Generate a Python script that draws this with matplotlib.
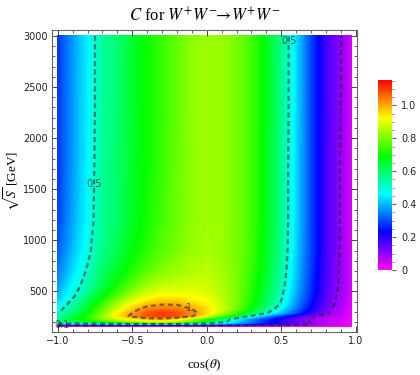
import colorsys
import numpy as np
import matplotlib
matplotlib.use("Agg")
import matplotlib.pyplot as plt
from matplotlib.colors import ListedColormap, Normalize
from matplotlib.ticker import MultipleLocator, FuncFormatter

# ---------------- data ----------------
cos_theta = [-1.0, -0.9, -0.8, -0.7, -0.6, -0.5, -0.4, -0.3, -0.2, -0.1, 0.0,
             0.1, 0.2, 0.3, 0.4, 0.5, 0.6, 0.7, 0.8, 0.85, 0.9, 0.94, 0.97]
sqrt_s = [161, 168, 176, 188, 205, 230, 260, 290, 330, 380, 450, 550, 700,
          900, 1200, 1700, 2300, 3000]

C_161 = [0.00, 0.00, 0.00, 0.00, 0.00, 0.00, 0.00, 0.00, 0.00, 0.00, 0.00,
         0.00, 0.00, 0.00, 0.00, 0.00, 0.00, 0.00, 0.00, 0.00, 0.00, 0.00, 0.00]
C_168 = [0.10, 0.10, 0.10, 0.10, 0.10, 0.10, 0.10, 0.10, 0.10, 0.10, 0.10,
         0.10, 0.10, 0.09, 0.08, 0.07, 0.06, 0.05, 0.03, 0.025, 0.02, 0.015, 0.01]
C_176 = [0.28, 0.28, 0.29, 0.30, 0.31, 0.32, 0.33, 0.33, 0.33, 0.32, 0.30,
         0.27, 0.24, 0.21, 0.18, 0.15, 0.12, 0.09, 0.06, 0.045, 0.035, 0.025, 0.015]
C_188 = [0.50, 0.51, 0.53, 0.56, 0.59, 0.62, 0.64, 0.65, 0.63, 0.58, 0.51,
         0.44, 0.37, 0.30, 0.24, 0.19, 0.14, 0.10, 0.065, 0.05, 0.04, 0.03, 0.015]
C_205 = [0.56, 0.60, 0.65, 0.71, 0.77, 0.83, 0.87, 0.89, 0.86, 0.78, 0.66,
         0.54, 0.43, 0.34, 0.26, 0.20, 0.14, 0.095, 0.06, 0.05, 0.035, 0.025, 0.01]
C_230 = [0.57, 0.64, 0.72, 0.80, 0.87, 0.93, 0.97, 0.98, 0.94, 0.84, 0.71,
         0.57, 0.45, 0.35, 0.27, 0.20, 0.14, 0.09, 0.06, 0.05, 0.035, 0.025, 0.01]
C_260 = [0.53, 0.62, 0.72, 0.83, 0.94, 1.02, 1.08, 1.10, 1.08, 1.01, 0.90,
         0.77, 0.63, 0.49, 0.37, 0.27, 0.19, 0.12, 0.075, 0.06, 0.045, 0.03, 0.015]
C_290 = [0.495, 0.58, 0.68, 0.80, 0.92, 1.00, 1.07, 1.10, 1.08, 1.03, 0.95,
         0.85, 0.74, 0.63, 0.51, 0.40, 0.29, 0.19, 0.11, 0.085, 0.06, 0.04, 0.02]
C_330 = [0.47, 0.56, 0.66, 0.77, 0.88, 0.97, 1.03, 1.05, 1.04, 1.00, 0.95,
         0.88, 0.79, 0.68, 0.56, 0.45, 0.33, 0.22, 0.125, 0.095, 0.07, 0.045, 0.025]
C_380 = [0.44, 0.53, 0.63, 0.74, 0.84, 0.92, 0.97, 0.99, 0.99, 0.96, 0.93,
         0.87, 0.80, 0.71, 0.61, 0.49, 0.36, 0.24, 0.14, 0.105, 0.08, 0.05, 0.03]
C_450 = [0.40, 0.49, 0.58, 0.68, 0.77, 0.85, 0.90, 0.93, 0.93, 0.92, 0.90,
         0.86, 0.80, 0.72, 0.62, 0.51, 0.38, 0.26, 0.15, 0.11, 0.085, 0.055, 0.03]
C_550 = [0.37, 0.465, 0.535, 0.63, 0.71, 0.78, 0.84, 0.87, 0.88, 0.88, 0.88,
         0.85, 0.80, 0.73, 0.64, 0.53, 0.40, 0.27, 0.16, 0.12, 0.09, 0.06, 0.03]
C_700 = [0.34, 0.43, 0.51, 0.60, 0.66, 0.72, 0.77, 0.81, 0.83, 0.85, 0.86,
         0.84, 0.80, 0.74, 0.65, 0.55, 0.41, 0.28, 0.165, 0.125, 0.09, 0.06, 0.035]
C_900 = [0.31, 0.40, 0.48, 0.57, 0.62, 0.68, 0.73, 0.77, 0.80, 0.83, 0.84,
         0.83, 0.80, 0.75, 0.66, 0.56, 0.42, 0.29, 0.17, 0.13, 0.095, 0.06, 0.035]
C_1200 = [0.29, 0.38, 0.46, 0.56, 0.60, 0.66, 0.71, 0.75, 0.79, 0.82, 0.835,
          0.83, 0.80, 0.75, 0.67, 0.565, 0.425, 0.29, 0.17, 0.13, 0.095, 0.06, 0.035]
C_1700 = [0.28, 0.37, 0.455, 0.555, 0.595, 0.655, 0.70, 0.745, 0.785, 0.82, 0.835,
          0.83, 0.80, 0.75, 0.67, 0.565, 0.425, 0.29, 0.17, 0.13, 0.097, 0.062, 0.035]
C_2300 = [0.28, 0.37, 0.45, 0.55, 0.59, 0.65, 0.70, 0.74, 0.78, 0.82, 0.835,
          0.83, 0.80, 0.75, 0.67, 0.57, 0.43, 0.29, 0.17, 0.135, 0.10, 0.064, 0.035]
C_3000 = [0.275, 0.365, 0.45, 0.55, 0.59, 0.65, 0.70, 0.74, 0.78, 0.82, 0.835,
          0.83, 0.80, 0.75, 0.67, 0.57, 0.43, 0.29, 0.17, 0.135, 0.105, 0.066, 0.035]

C_rows = [C_161, C_168, C_176, C_188, C_205, C_230, C_260, C_290, C_330, C_380,
          C_450, C_550, C_700, C_900, C_1200, C_1700, C_2300, C_3000]

contour_levels = [0.1, 0.5, 1.0]
label_positions = [(-0.97, 170), (-0.75, 1550), (0.55, 2950), (-0.12, 340)]
cbar_ticks = [0, 0.2, 0.4, 0.6, 0.8, 1.0]
cbar_labels = ["0", "0.2", "0.4", "0.6", "0.8", "1.0"]
C_max = 1.1547

# ---------------- colormap: hue from magenta (0) to red (max) ----------------
hues = np.linspace(300 / 360, 0, 512)
cmap = ListedColormap([colorsys.hsv_to_rgb(h, 1, 1) for h in hues])
norm = Normalize(vmin=0, vmax=C_max)

plt.rcParams["mathtext.fontset"] = "stix"
fig = plt.figure(figsize=(4.2, 3.75), dpi=100)
ax = fig.add_axes([0.1238, 0.1147, 0.7262, 0.8053])

X, Y = np.meshgrid(cos_theta, sqrt_s)
Z = np.array(C_rows)
ax.contourf(X, Y, Z, levels=np.linspace(0, C_max, 240), cmap=cmap, norm=norm,
            antialiased=False)
cs = ax.contour(X, Y, Z, levels=contour_levels, colors=[(0.15, 0.15, 0.15)],
                linewidths=1.6, linestyles=[(0, (2.2, 1.6))], alpha=0.6)
lbls = ax.clabel(cs, fmt={0.1: "0.1", 0.5: "0.5", 1.0: "1"}, inline=False,
                 fontsize=7, colors="black", manual=label_positions)
for t in lbls:
    t.set_rotation(0)
    t.set_family("DejaVu Sans")

ax.set_xlim(-1.039, 1.009)
ax.set_ylim(104, 3057)
ax.xaxis.set_major_locator(MultipleLocator(0.5))
ax.xaxis.set_minor_locator(MultipleLocator(0.1))
ax.yaxis.set_major_locator(MultipleLocator(500))
ax.yaxis.set_minor_locator(MultipleLocator(100))
ax.xaxis.set_major_formatter(FuncFormatter(lambda v, p: f"{v:.1f}".replace("-", "\u2212")))
ax.tick_params(which="both", direction="in", top=True, right=True,
               labelsize=7, color="#444444", labelcolor="#222222", pad=3)
ax.tick_params(which="major", length=4, width=0.7)
ax.tick_params(which="minor", length=2, width=0.6)
for sp in ax.spines.values():
    sp.set_color("#666666")
    sp.set_linewidth(0.8)

ax.set_title(r"$C$ for $W^{+}W^{-}\!\!\rightarrow\!W^{+}W^{-}$", fontsize=12,
             family="Liberation Serif", pad=6)
ax.set_xlabel(r"cos($\theta$)", fontsize=9.5, family="Liberation Serif", labelpad=8)
ax.set_ylabel(r"$\sqrt{S}$ [GeV]", fontsize=9.5, family="Liberation Serif")
ax.yaxis.set_label_coords(-0.098, 0.5)

# ---------------- colour bar ----------------
cax = fig.add_axes([0.9, 0.28, 0.033, 0.507])
sm = matplotlib.cm.ScalarMappable(norm=norm, cmap=cmap)
cb = fig.colorbar(sm, cax=cax, ticks=cbar_ticks)
cb.outline.set_visible(False)
cb.ax.yaxis.set_minor_locator(MultipleLocator(0.05))
cb.ax.set_yticklabels(cbar_labels)
cb.ax.tick_params(which="both", direction="out", labelsize=7, color="#666666",
                  labelcolor="#222222")
cb.ax.tick_params(which="major", length=3)
cb.ax.tick_params(which="minor", length=1.5)

fig.savefig("out.png", dpi=100)
